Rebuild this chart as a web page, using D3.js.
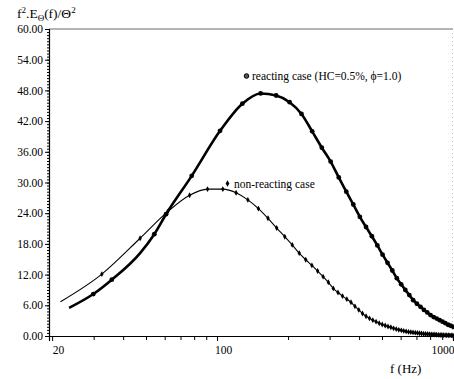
<!DOCTYPE html>
<html>
<head>
<meta charset="utf-8">
<script src="https://cdn.jsdelivr.net/npm/d3@7"></script>
<style>
  body { margin: 0; background: #fff; }
  svg { display: block; font-family: "Liberation Serif", "DejaVu Serif", serif; }
</style>
</head>
<body>
<div id="chart"></div>
<script>
// reacting case (HC=0.5%, phi=1.0) - thick line, circles
const reactFreq = [23.6, 29.9, 35.8, 47.2, 54.2, 60.8, 78.1, 103, 128, 153, 178, 203, 228, 253, 278, 303, 328, 353, 378, 403, 428, 453, 478, 503, 528, 553, 578, 603, 628, 653, 678, 703, 728, 753, 778, 803, 828, 853, 878, 903, 928, 953, 978, 1003];
const reactVal = [5.5, 8.2, 11.0, 16.2, 19.9, 23.8, 31.3, 40.1, 45.4, 47.4, 47.0, 45.7, 43.4, 40.0, 36.8, 34.1, 31.0, 28.2, 25.7, 23.3, 21.3, 19.5, 17.7, 15.9, 14.3, 12.8, 11.3, 10.1, 9.0, 8.0, 7.0, 6.3, 5.7, 5.1, 4.6, 4.1, 3.7, 3.4, 3.1, 2.8, 2.5, 2.2, 2.0, 1.8];
const reactNoMark = [0, 3];

// non-reacting case - thin line, diamonds
const nonFreq = [21.7, 32.5, 47.2, 61.8, 76.5, 91.1, 105.8, 120.4, 135.1, 149.7, 164.4, 179.0, 193.7, 208.3, 223.0, 237.6, 252.3, 266.9, 281.6, 296.2, 310.9, 325.5, 340.2, 354.8, 369.5, 384.1, 398.8, 413.4, 428.1, 442.7, 457.4, 472.0, 486.7, 501.3, 516.0, 530.6, 545.3, 559.9, 574.6, 589.2, 603.9, 618.5, 633.2, 647.8, 662.5, 677.1, 691.8, 706.4, 721.1, 735.7, 750.4, 765.0, 779.7, 794.3, 809.0, 823.6, 838.3, 852.9, 867.6, 882.2, 896.9, 911.5, 926.2, 940.8, 955.5, 970.1, 984.8, 999.4];
const nonVal = [6.7, 12.1, 19.1, 24.3, 27.5, 28.7, 28.7, 28.0, 26.6, 24.9, 23.0, 21.1, 19.4, 17.8, 16.2, 14.9, 13.8, 12.7, 11.6, 10.5, 9.3, 8.5, 7.8, 7.2, 6.6, 5.8, 5.1, 4.4, 3.85, 3.45, 3.1, 2.8, 2.5, 2.25, 2.05, 1.85, 1.7, 1.5, 1.35, 1.2, 1.1, 1.0, 0.9, 0.8, 0.75, 0.7, 0.65, 0.6, 0.55, 0.5, 0.45, 0.4, 0.38, 0.35, 0.32, 0.3, 0.28, 0.25, 0.22, 0.2, 0.2, 0.18, 0.16, 0.15, 0.14, 0.13, 0.12, 0.1];
const nonNoMark = [0];

const yTicks = [0, 6, 12, 18, 24, 30, 36, 42, 48, 54, 60];
const xTicks = [20, 100, 1000];
const xMinor = [30, 40, 50, 60, 70, 80, 90, 200, 300, 400, 500, 600, 700, 800, 900];

const width = 454, height = 379;
const margin = { top: 29, right: 1, bottom: 43, left: 49 };

const svg = d3.select('#chart').append('svg')
  .attr('width', width)
  .attr('height', height);

const x = d3.scaleLog()
  .domain([19.4, 1000])
  .range([margin.left, width - margin.right]);

const y = d3.scaleLinear()
  .domain([0, 60])
  .range([height - margin.bottom, margin.top]);

// frame: top line and dotted right edge
svg.append('line')
  .attr('x1', x.range()[0]).attr('x2', x.range()[1])
  .attr('y1', y(60)).attr('y2', y(60))
  .attr('stroke', '#444').attr('stroke-width', 0.8);
svg.append('line')
  .attr('x1', x.range()[1] - 0.5).attr('x2', x.range()[1] - 0.5)
  .attr('y1', y(60)).attr('y2', y(0))
  .attr('stroke', '#aaa').attr('stroke-width', 0.8)
  .attr('stroke-dasharray', '1,3');

// y axis
const yMinor = d3.range(0, 60.001, 0.6);
svg.append('g')
  .attr('transform', `translate(${margin.left},0)`)
  .call(d3.axisLeft(y).tickValues(yMinor).tickSize(2).tickFormat(''))
  .call(g => g.select('.domain').remove());

const yAxis = svg.append('g')
  .attr('transform', `translate(${margin.left},0)`)
  .call(d3.axisLeft(y).tickValues(yTicks).tickSize(4).tickPadding(2).tickFormat(d3.format('.2f')));
yAxis.select('.domain').attr('stroke-width', 1.2);
yAxis.selectAll('text').attr('font-size', 11.5).attr('font-family', 'Liberation Serif').attr('fill', '#000');

// x axis
svg.append('g')
  .attr('transform', `translate(0,${y(0)})`)
  .call(d3.axisBottom(x).tickValues(xMinor).tickSize(4).tickFormat(''))
  .call(g => g.select('.domain').remove());

const xAxis = svg.append('g')
  .attr('transform', `translate(0,${y(0)})`)
  .call(d3.axisBottom(x).tickValues(xTicks).tickSize(5).tickPadding(5).tickFormat(d3.format('d')));
xAxis.select('.domain').attr('stroke-width', 1.2);
xAxis.selectAll('text')
  .attr('font-size', 11.5).attr('font-family', 'Liberation Serif').attr('fill', '#000')
  .attr('dx', 6)
  .filter(d => d === 1000).attr('text-anchor', 'end').attr('dx', 1);

// series
const series = [
  { freq: reactFreq, val: reactVal, noMark: reactNoMark, width: 2.6, shape: d3.symbolCircle, size: 18 },
  { freq: nonFreq, val: nonVal, noMark: nonNoMark, width: 1.1, shape: d3.symbolDiamond, size: 10 }
];

const line = d3.line()
  .x(d => x(d[0]))
  .y(d => y(d[1]))
  .curve(d3.curveMonotoneX);

series.forEach(s => {
  const pts = s.freq.map((f, i) => [f, s.val[i], i]);
  svg.append('path')
    .datum(pts)
    .attr('fill', 'none')
    .attr('stroke', '#000')
    .attr('stroke-width', s.width)
    .attr('stroke-linejoin', 'round')
    .attr('d', line);

  svg.append('g').selectAll('path')
    .data(pts.filter(p => !s.noMark.includes(p[2])))
    .enter().append('path')
    .attr('transform', d => `translate(${x(d[0])},${y(d[1])})`)
    .attr('d', d3.symbol().type(s.shape).size(s.size))
    .attr('fill', '#000');
});

// legend labels
svg.append('circle')
  .attr('cx', 246.5).attr('cy', 76)
  .attr('r', 2.3)
  .attr('fill', '#555').attr('stroke', '#000').attr('stroke-width', 1);
svg.append('text')
  .attr('x', 252).attr('y', 80)
  .attr('font-size', 11.5)
  .text('reacting case (HC=0.5%, \u03D5=1.0)');

svg.append('path')
  .attr('transform', 'translate(227.5,183.5)')
  .attr('d', d3.symbol().type(d3.symbolDiamond).size(12))
  .attr('fill', '#000');
svg.append('text')
  .attr('x', 234).attr('y', 187.5)
  .attr('font-size', 11.5)
  .text('non-reacting case');

// axis titles
const yt = svg.append('text')
  .attr('x', 17).attr('y', 18)
  .attr('font-size', 13.5);
yt.append('tspan').text('f');
yt.append('tspan').attr('font-size', 9).attr('dy', -5).text('2');
yt.append('tspan').attr('dy', 5).text('.E');
yt.append('tspan').attr('font-size', 9).attr('dy', 3).text('\u0398');
yt.append('tspan').attr('dy', -3).text('(f)/\u0398');
yt.append('tspan').attr('font-size', 9).attr('dy', -5).text('2');

svg.append('text')
  .attr('x', 390).attr('y', 373)
  .attr('font-size', 13)
  .text('f (Hz)');
</script>
</body>
</html>
